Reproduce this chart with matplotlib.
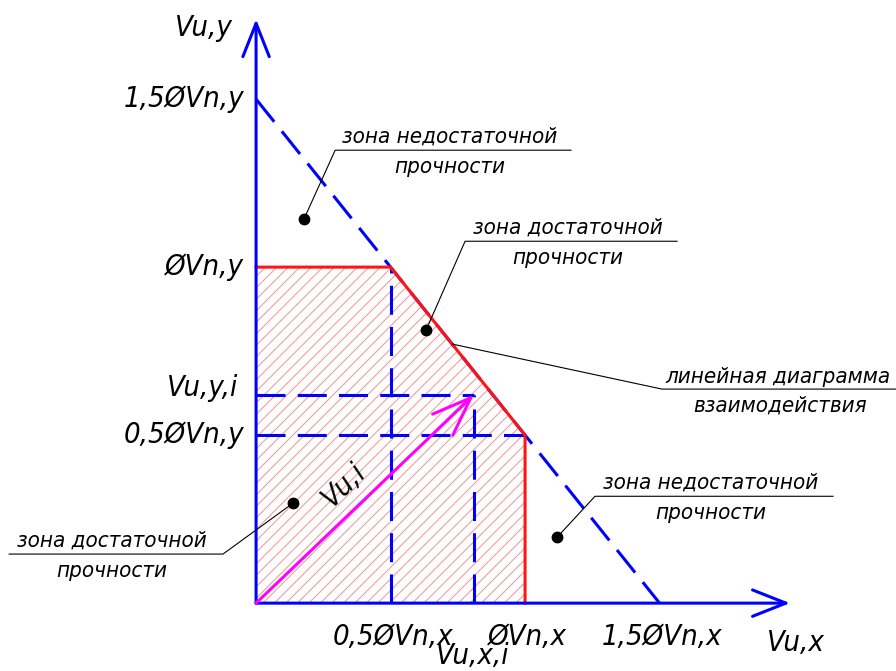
import numpy as np
import matplotlib.pyplot as plt
from matplotlib.patches import Polygon, FancyArrowPatch

# all values in units of ØVn (x and y directions)
x_levels = [0.5, 1.0, 1.5]
x_labels = ['0,5ØVn,x', 'ØVn,x', '1,5ØVn,x']
y_levels = [0.5, 1.0, 1.5]
y_labels = ['0,5ØVn,y', 'ØVn,y', '1,5ØVn,y']

# demand vector Vu,i
vu_x_i = 0.81
vu_y_i = 0.62

# red interaction boundary (capped linear diagram)
bound_x = [0.0, 0.5, 1.0, 1.0]
bound_y = [1.0, 1.0, 0.5, 0.0]

# dashed linear interaction Vx + Vy = 1.5
lin_x = [0.0, 1.5]
lin_y = [1.5, 0.0]

BLUE = '#0000ff'
RED = '#ff1414'
MAGENTA = '#ff00ff'
HATCH = '#f09a9a'

plt.rcParams['font.family'] = ['DejaVu Sans']
txt = dict(style='italic', stretch='condensed', color='black')

fig = plt.figure(figsize=(8.96, 6.71), dpi=100)
ax = fig.add_axes([0, 0, 1, 1])
ax.set_xlim(-0.952, 2.379)
ax.set_ylim(-0.202, 1.795)
ax.axis('off')

# hatched zone of sufficient strength
zone = Polygon(list(zip([0.0] + bound_x, [0.0] + bound_y)), closed=True,
               facecolor='none', edgecolor='none')
ax.add_patch(zone)
slope = 269 / 336  # 45 degrees on screen
for c in np.arange(-1.3, 1.05, 11.5 / 269):
    ln, = ax.plot([c, c + 2.5], [0, 2.5 * slope], color=HATCH, lw=0.75, zorder=1)
    ln.set_clip_path(zone)

dash = (0, (9.5, 4))
lw = 2.2
# linear diagram (dashed)
ax.plot(lin_x, lin_y, color=BLUE, lw=lw, linestyle=dash, zorder=2)
# helper dashed lines at 0.5 levels
ax.plot([0.5, 0.5], [0, 1.0], color=BLUE, lw=lw, linestyle=dash, zorder=2)
ax.plot([0, 1.0], [0.5, 0.5], color=BLUE, lw=lw, linestyle=dash, zorder=2)
# projections of Vu,i
ax.plot([vu_x_i, vu_x_i], [0, vu_y_i], color=BLUE, lw=lw, linestyle=dash, zorder=2)
ax.plot([0, vu_x_i], [vu_y_i, vu_y_i], color=BLUE, lw=lw, linestyle=dash, zorder=2)

# red boundary
ax.plot(bound_x, bound_y, color=RED, lw=lw, zorder=3, solid_joinstyle='miter')

# axes with open arrowheads
for end in [(0, 1.738), (1.985, 0)]:
    arr = FancyArrowPatch((0, 0), end, arrowstyle='->,head_length=2.4,head_width=0.95',
                          mutation_scale=10, color=BLUE, lw=lw, shrinkA=0, shrinkB=0,
                          zorder=4, capstyle='round', joinstyle='round')
    ax.add_patch(arr)

# vector Vu,i
arr = FancyArrowPatch((0, 0), (vu_x_i, vu_y_i), arrowstyle='->,head_length=2.8,head_width=1.05',
                      mutation_scale=10, color=MAGENTA, lw=lw, shrinkA=0, shrinkB=0,
                      zorder=5, capstyle='round', joinstyle='round')
ax.add_patch(arr)
ax.text(0.327, 0.351, 'Vu,i', rotation=44, ha='center', va='center', fontsize=21, **txt)

# axis labels
big = 21
ax.text(-0.086, 1.711, 'Vu,y', ha='right', va='center', fontsize=big, **txt)
ax.text(2.007, -0.119, 'Vu,x', ha='center', va='center', fontsize=big, **txt)
for lev, lab in zip(y_levels, y_labels):
    ax.text(-0.045, lev, lab, ha='right', va='center', fontsize=big, **txt)
for lev, lab in zip(x_levels, x_labels):
    ax.text(lev + 0.01, -0.101, lab, ha='center', va='center', fontsize=big, **txt)
ax.text(-0.067, vu_y_i + 0.02, 'Vu,y,i', ha='right', va='center', fontsize=big, **txt)
ax.text(vu_x_i - 0.005, -0.199, 'Vu,x,i', ha='center', va='bottom', fontsize=big, **txt)


# leader notes: dot, kink point, underline end, text centre
def note(dot, kink, line_end, centre, line1, line2, gap=0.09):
    ax.plot([dot[0], kink[0], line_end], [dot[1], kink[1], kink[1]],
            color='black', lw=0.8, zorder=6)
    ax.plot(dot[0], dot[1], 'o', color='black', ms=7.5, zorder=7)
    ax.text(centre, kink[1] + 0.04, line1, ha='center', va='center', fontsize=16, **txt)
    ax.text(centre, kink[1] + 0.04 - gap, line2, ha='center', va='center', fontsize=16, **txt)


note((0.178, 1.143), (0.294, 1.348), 1.171, 0.721,
     'зона недостаточной', 'прочности')
note((0.632, 0.8125), (0.777, 1.077), 1.565, 1.16,
     'зона достаточной', 'прочности')
note((1.119, 0.196), (1.26, 0.318), 2.145, 1.69,
     'зона недостаточной', 'прочности')
note((0.138, 0.298), (-0.123, 0.146), -0.918, -0.535,
     'зона достаточной', 'прочности')

# linear diagram note, leader starts on the red line itself
ax.plot([0.729, 1.509, 2.379], [0.771, 0.637, 0.637], color='black', lw=0.8, zorder=6)
ax.text(1.94, 0.673, 'линейная диаграмма', ha='center', va='center', fontsize=16, **txt)
ax.text(1.948, 0.589, 'взаимодействия', ha='center', va='center', fontsize=16, **txt)

fig.savefig('out.png', dpi=100)
